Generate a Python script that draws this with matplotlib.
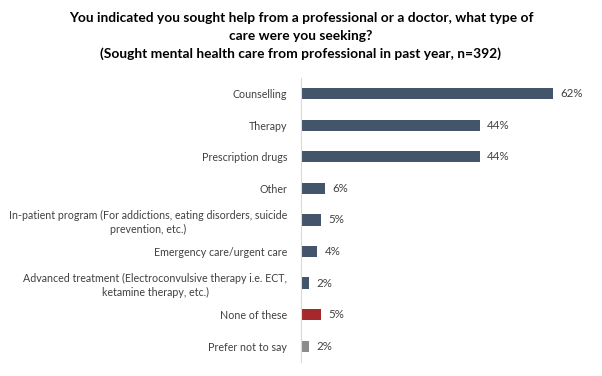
import matplotlib
matplotlib.use("Agg")
import matplotlib.pyplot as plt

categories = [
    "Counselling",
    "Therapy",
    "Prescription drugs",
    "Other",
    "In-patient program (For addictions, eating disorders, suicide\nprevention, etc.)",
    "Emergency care/urgent care",
    "Advanced treatment (Electroconvulsive therapy i.e. ECT,\nketamine therapy, etc.)",
    "None of these",
    "Prefer not to say",
]
values = [62, 44, 44, 6, 5, 4, 2, 5, 2]
colors = ["#44546A"] * 7 + ["#A5282A", "#8C8C8C"]
title = ("You indicated you sought help from a professional or a doctor, what type of\n"
         "care were you seeking?\n"
         "(Sought mental health care from professional in past year, n=392)")

plt.rcParams['font.family'] = ['Lato', 'DejaVu Sans']

fig = plt.figure(figsize=(6.02, 3.76), dpi=100)
ax = fig.add_axes([0.5, 0.037, 0.472, 0.756])
y = list(range(len(categories)))
ax.barh(y, values, height=0.36, color=colors)
ax.set_ylim(len(categories) - 0.5, -0.5)
ax.set_xlim(0, 70)
for yi, v in zip(y, values):
    ax.text(v + 1.8, yi, f"{v}%", va="center", ha="left", fontsize=8.3, color="#404040")
ax.set_yticks(y)
ax.set_yticklabels(categories, fontsize=7.65, color="#404040", multialignment="center",
                   linespacing=1.3)
ax.tick_params(axis="y", length=0, pad=10)
ax.set_xticks([])
for s in ["top", "right", "bottom"]:
    ax.spines[s].set_visible(False)
ax.spines["left"].set_color("#D9D9D9")
fig.text(0.5, 0.968, title, ha="center", va="top", fontsize=9.9, fontweight="bold",
         color="#000000", linespacing=1.55)
fig.savefig("out.png", dpi=100)
